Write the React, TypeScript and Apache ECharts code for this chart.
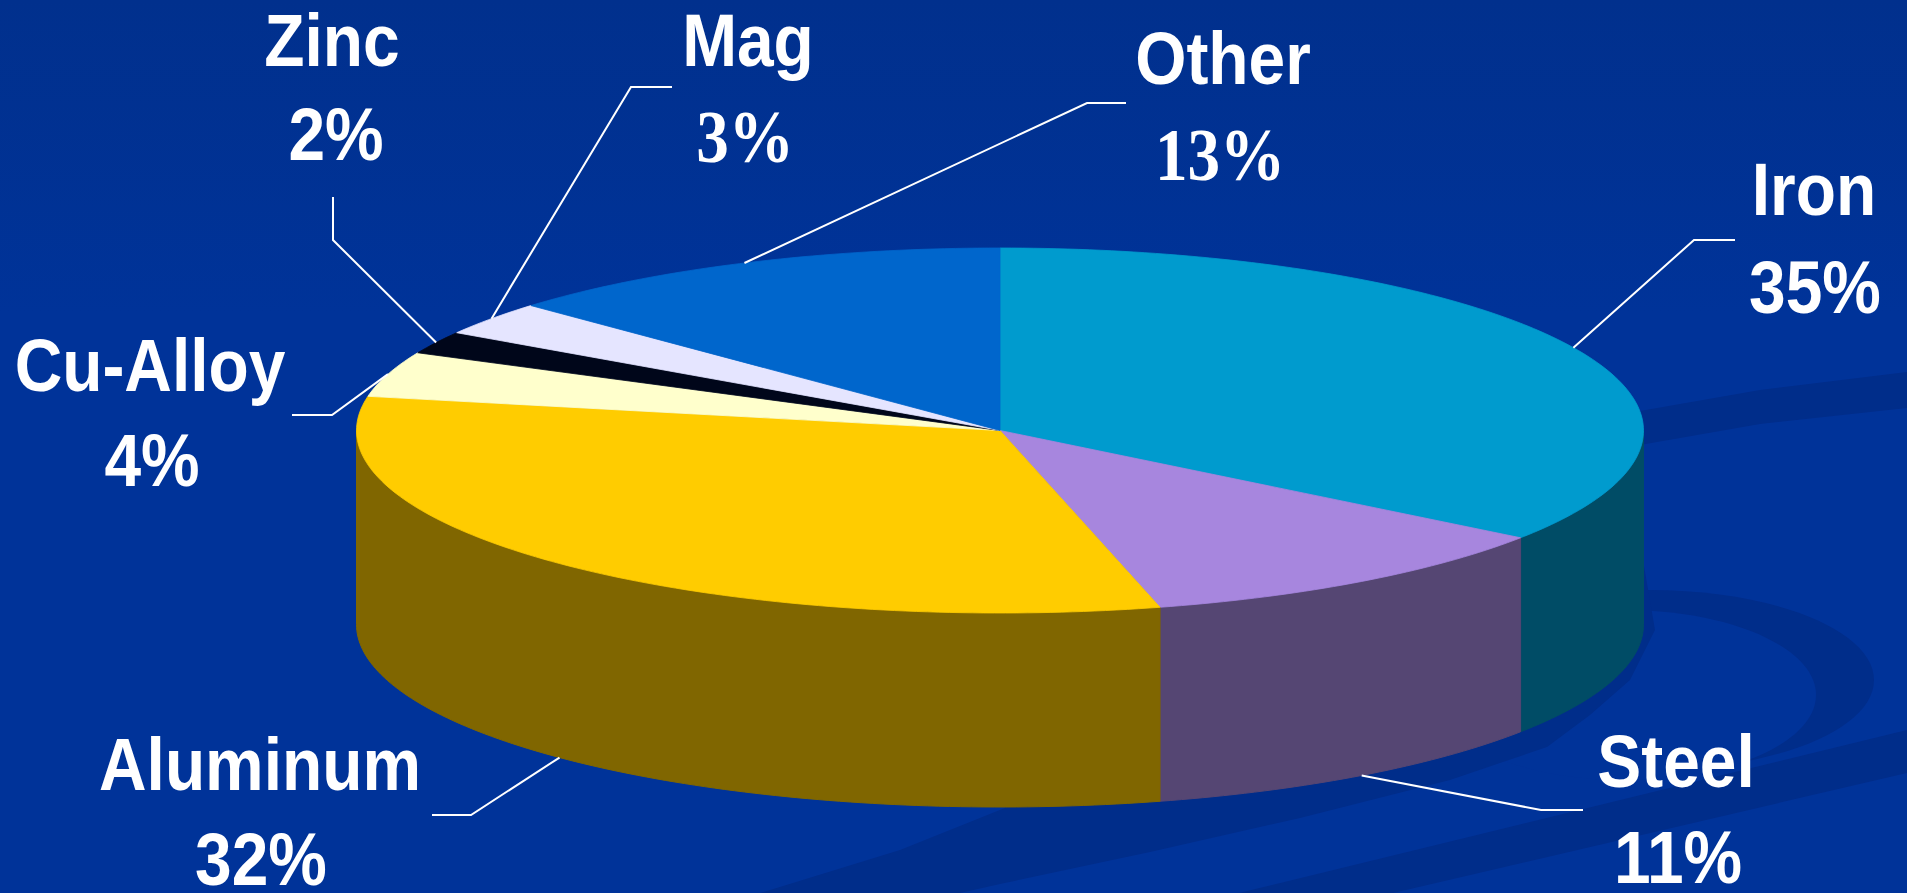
import React, { useEffect, useRef } from "react";
import * as echarts from "echarts";

// ---------- data ----------
const categories = ["Iron", "Steel", "Aluminum", "Cu-Alloy", "Zinc", "Mag", "Other"];
const shares = [35, 11, 32, 4, 2, 3, 13];
const topColors = ["#009BCE", "#A786DE", "#FFCC00", "#FFFFCC", "#00061A", "#E5E5FF", "#0066CC"];
const sideColors = ["#004C66", "#554673", "#806600", "#80806A", "#00030D", "#737380", "#003366"];
const pctFontKind = ["sans", "sans", "sans", "sans", "sans", "serif", "serif"];

// ---------- layout (positions / sizes only) ----------
const PIE = { cx: 1000, cy: 430.5, rx: 643.5, ry: 182.5, depth: 194 };
// [name x, name y (cap middle), pct x, pct y]
const labelPos = [
  [1814, 190, 1815, 288],
  [1676, 762, 1678, 858],
  [260, 765, 261, 860],
  [150, 366, 152, 461],
  [332, 41, 336, 135],
  [748, 41, 745, 137],
  [1223, 59, 1220, 155],
];
// leader: [outer end, elbow]; the inner end is computed on the pie rim
const leaderPts = [
  [[1735, 240], [1694, 240]],
  [[1583, 810], [1541, 810]],
  [[432, 815], [471, 815]],
  [[292, 415], [332, 415]],
  [[333, 197], [333, 240]],
  [[672, 87], [631, 87]],
  [[1126, 103], [1087, 103]],
];

const BG = "#003399";
const BAND = "#002D8A";

const total = shares.reduce((a, b) => a + b, 0);
const starts: number[] = [];
{
  let acc = 0;
  shares.forEach((v) => {
    starts.push(acc);
    acc += v;
  });
}

function rim(theta: number, dy = 0): number[] {
  return [PIE.cx + PIE.rx * Math.sin(theta), PIE.cy - PIE.ry * Math.cos(theta) + dy];
}

function arcPts(a0: number, a1: number, dy = 0): number[][] {
  const n = Math.max(2, Math.ceil(((a1 - a0) / Math.PI) * 180));
  const out: number[][] = [];
  for (let k = 0; k <= n; k++) out.push(rim(a0 + ((a1 - a0) * k) / n, dy));
  return out;
}

const SANS = 'bold 74px "Liberation Sans", Arial, Helvetica, sans-serif';
const SERIF = 'bold 74px "Liberation Serif", "Times New Roman", serif';

export default function App() {
  const ref = useRef<HTMLDivElement>(null);
  useEffect(() => {
    if (!ref.current) return;
    const chart = echarts.init(ref.current, null, { renderer: "svg" });
    const seriesData = shares.map((v, i) => [i, v]);

    const option: any = {
      animation: false,
      backgroundColor: new echarts.graphic.LinearGradient(0, 0, 0, 1, [
        { offset: 0, color: "#01308D" },
        { offset: 0.35, color: "#003399" },
        { offset: 1, color: "#003399" },
      ]),
      graphic: [
        // right upper swoosh band
        {
          type: "polygon",
          z: 0,
          shape: { points: [[1600, 418], [1760, 390], [1907, 372], [1907, 408], [1760, 424], [1600, 452]] },
          style: { fill: BAND },
        },
        // crescent
        { type: "ellipse", z: 0, shape: { cx: 1650, cy: 680, rx: 224, ry: 90 }, style: { fill: BAND } },
        { type: "ellipse", z: 0, shape: { cx: 1625, cy: 695, rx: 191, ry: 85 }, style: { fill: BG } },
        // shadow band under pie
        {
          type: "polygon",
          z: 0,
          shape: {
            points: [
              [1643, 560], [1655, 630], [1630, 680], [1590, 715], [1547, 747], [1450, 780],
              [1300, 818], [1150, 852], [1000, 884], [960, 893], [760, 893], [900, 850],
              [1050, 790], [1400, 600],
            ],
          },
          style: { fill: BAND },
        },
        // lower diagonal band
        {
          type: "polygon",
          z: 0,
          shape: { points: [[1239, 893], [1907, 730], [1907, 773], [1393, 893]] },
          style: { fill: BAND },
        },
      ],
      series: [
        {
          type: "custom",
          coordinateSystem: "none",
          z: 2,
          data: seriesData,
          renderItem: (params: any, api: any) => {
            const i = params.dataIndex;
            const v = api.value(1);
            const a0 = (starts[i] / total) * Math.PI * 2;
            const a1 = a0 + (v / total) * Math.PI * 2;
            const children: any[] = [];
            const s0 = Math.max(a0, Math.PI / 2);
            const s1 = Math.min(a1, (Math.PI * 3) / 2);
            if (s1 > s0) {
              const top = arcPts(s0, s1, 0);
              const bot = arcPts(s0, s1, PIE.depth).reverse();
              children.push({
                type: "polygon",
                shape: { points: top.concat(bot) },
                style: { fill: sideColors[i], stroke: sideColors[i], lineWidth: 1 },
              });
            }
            const face = [[PIE.cx, PIE.cy]].concat(arcPts(a0, a1, 0));
            children.push({
              type: "polygon",
              shape: { points: face },
              style: { fill: topColors[i], stroke: topColors[i], lineWidth: 0.8 },
            });
            return { type: "group", children };
          },
        },
        {
          type: "custom",
          coordinateSystem: "none",
          z: 5,
          data: seriesData,
          renderItem: (params: any, api: any) => {
            const i = params.dataIndex;
            const v = api.value(1);
            const a0 = (starts[i] / total) * Math.PI * 2;
            const mid = a0 + (v / total) * Math.PI;
            const front = mid > Math.PI / 2 && mid < (Math.PI * 3) / 2;
            const anchor = rim(mid, front ? PIE.depth : 0);
            const [nx, ny, px, py] = labelPos[i];
            const [end, elbow] = leaderPts[i];
            return {
              type: "group",
              children: [
                {
                  type: "polyline",
                  shape: { points: [end, elbow, anchor] },
                  style: { stroke: "#FFFFFF", lineWidth: 2, fill: null },
                },
                {
                  type: "text",
                  x: nx,
                  y: ny,
                  scaleX: 0.89,
                  style: {
                    text: categories[i],
                    fill: "#FFFFFF",
                    font: SANS,
                    align: "center",
                    verticalAlign: "middle",
                  },
                },
                {
                  type: "text",
                  x: px,
                  y: py,
                  scaleX: pctFontKind[i] === "serif" ? 0.88 : 0.89,
                  style: {
                    text: v + "%",
                    fill: "#FFFFFF",
                    font: pctFontKind[i] === "serif" ? SERIF : SANS,
                    align: "center",
                    verticalAlign: "middle",
                  },
                },
              ],
            };
          },
        },
      ],
    };
    chart.setOption(option);
    return () => chart.dispose();
  }, []);

  return (
    <div
      ref={ref}
      style={{ position: "absolute", left: 0, top: 0, width: 1907, height: 893 }}
    />
  );
}
